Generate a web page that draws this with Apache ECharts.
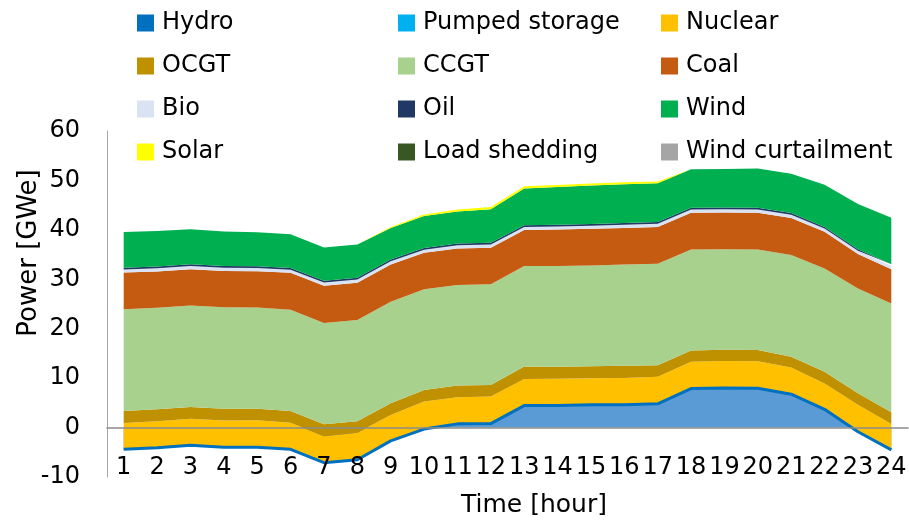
<!DOCTYPE html>
<html>
<head>
<meta charset="utf-8">
<script src="https://cdn.jsdelivr.net/npm/echarts@6/dist/echarts.min.js"></script>
<style>
  html, body { margin: 0; padding: 0; background: #fff; }
  #chart { width: 909px; height: 521px; }
</style>
</head>
<body>
<div id="chart"></div>
<script>
// hourly dispatch, GWe
const hours = ["1", "2", "3", "4", "5", "6", "7", "8", "9", "10", "11", "12",
  "13", "14", "15", "16", "17", "18", "19", "20", "21", "22", "23", "24"];

const hydro = [-4.4, -4.1, -3.6, -4.0, -4.0, -4.4, -7.1, -6.5, -2.7, -0.3, 0.75, 0.8,
  4.45, 4.45, 4.6, 4.6, 4.8, 7.9, 8.0, 7.95, 6.75, 3.7, -0.85, -4.5];
const pumpedStorage = [0, 0, 0, 0, 0, 0, 0, 0, 0, 0, 0, 0, 0, 0, 0, 0, 0, 0, 0, 0, 0, 0, 0, 0];
const nuclear = [5.35, 5.4, 5.4, 5.45, 5.5, 5.4, 5.35, 5.45, 5.25, 5.55, 5.4, 5.5,
  5.4, 5.45, 5.4, 5.45, 5.5, 5.4, 5.45, 5.45, 5.4, 5.2, 5.45, 5.2];
const ocgt = [2.4, 2.4, 2.35, 2.35, 2.3, 2.35, 2.4, 2.35, 2.35, 2.35, 2.35, 2.3,
  2.5, 2.4, 2.4, 2.45, 2.3, 2.3, 2.3, 2.3, 2.2, 2.4, 2.35, 2.4];
const ccgt = [20.6, 20.55, 20.55, 20.55, 20.5, 20.5, 20.5, 20.45, 20.55, 20.4, 20.35, 20.4,
  20.35, 20.4, 20.4, 20.5, 20.55, 20.45, 20.35, 20.35, 20.55, 20.9, 21.2, 22.0];
const coal = [7.4, 7.35, 7.35, 7.35, 7.35, 7.45, 7.55, 7.55, 7.55, 7.35, 7.4, 7.4,
  7.25, 7.35, 7.4, 7.4, 7.45, 7.4, 7.4, 7.4, 7.5, 7.4, 6.95, 6.95];
const bio = [0.65, 0.65, 0.65, 0.65, 0.65, 0.65, 0.65, 0.65, 0.65, 0.65, 0.65, 0.65,
  0.65, 0.65, 0.65, 0.65, 0.65, 0.65, 0.65, 0.65, 0.65, 0.65, 0.65, 0.65];
const oil = [0.35, 0.35, 0.35, 0.35, 0.35, 0.35, 0.35, 0.35, 0.35, 0.35, 0.35, 0.35,
  0.35, 0.35, 0.35, 0.35, 0.35, 0.35, 0.35, 0.35, 0.35, 0.35, 0.35, 0.35];
const wind = [7.2, 7.15, 7.05, 6.95, 6.85, 6.8, 6.75, 6.75, 6.4, 6.45, 6.45, 6.75,
  7.4, 7.6, 7.75, 7.85, 7.85, 7.8, 7.8, 7.95, 7.95, 8.55, 9.15, 9.4];
const solar = [0, 0, 0, 0, 0, 0, 0, 0, 0.2, 0.3, 0.4, 0.45,
  0.45, 0.45, 0.45, 0.4, 0.35, 0, 0, 0, 0, 0, 0, 0];
const loadShedding = [0, 0, 0, 0, 0, 0, 0, 0, 0, 0, 0, 0, 0, 0, 0, 0, 0, 0, 0, 0, 0, 0, 0, 0];
const windCurtailment = [0, 0, 0, 0, 0, 0, 0, 0, 0, 0, 0, 0, 0, 0, 0, 0, 0, 0, 0, 0, 0, 0, 0, 0];

const FONT = "DejaVu Sans";

function area(name, values, color, extra) {
  return Object.assign({
    name: name,
    type: "line",
    stack: "total",
    stackStrategy: "all",
    data: values,
    symbol: "none",
    showSymbol: false,
    lineStyle: { width: 0, opacity: 0 },
    itemStyle: { color: color },
    areaStyle: { color: color, opacity: 1 },
    emphasis: { disabled: true },
  }, extra || {});
}

const series = [
  area("Hydro", hydro, "#0070C0", {
    lineStyle: { width: 3, color: "#0070C0" },
    areaStyle: { color: "#5B9BD5", opacity: 1 },
  }),
  area("Pumped storage", pumpedStorage, "#00B0F0"),
  area("Nuclear", nuclear, "#FFC000"),
  area("OCGT", ocgt, "#BF9000"),
  area("CCGT", ccgt, "#A9D18E"),
  area("Coal", coal, "#C55A11"),
  area("Bio", bio, "#DAE3F3"),
  area("Oil", oil, "#203864"),
  area("Wind", wind, "#00B050"),
  area("Solar", solar, "#FFFF00"),
  area("Load shedding", loadShedding, "#385723"),
  area("Wind curtailment", windCurtailment, "#A5A5A5"),
];

const legendBase = {
  orient: "vertical",
  top: 11,
  padding: 0,
  icon: "rect",
  itemWidth: 17,
  itemHeight: 17,
  itemGap: 19,
  selectedMode: false,
  itemStyle: { borderWidth: 0 },
  textStyle: { fontFamily: FONT, fontSize: 24, lineHeight: 24, color: "#000", padding: [0, 0, 0, 3] },
};

const myChart = echarts.init(document.getElementById("chart"), null, { renderer: "canvas" });

const option = {
  animation: false,
  backgroundColor: "#fff",
  legend: [
    Object.assign({}, legendBase, { left: 137, data: ["Hydro", "OCGT", "Bio", "Solar"] }),
    Object.assign({}, legendBase, { left: 398, data: ["Pumped storage", "CCGT", "Oil", "Load shedding"] }),
    Object.assign({}, legendBase, { left: 661, data: ["Nuclear", "Coal", "Wind", "Wind curtailment"] }),
  ],
  grid: { left: 107, right: 1, top: 131, bottom: 44, containLabel: false, outerBoundsMode: "none" },
  xAxis: {
    type: "category",
    data: hours,
    boundaryGap: true,
    z: 10,
    name: "Time [hour]",
    nameLocation: "middle",
    nameGap: 16,
    nameMoveOverlap: false,
    nameTextStyle: { fontFamily: FONT, fontSize: 25, color: "#000", padding: [0, 0, 0, 53] },
    axisLine: { onZero: true, lineStyle: { color: "#8C8C8C", width: 1.5 } },
    axisTick: { show: false },
    splitLine: { show: false },
    axisLabel: { interval: 0, margin: -21, fontFamily: FONT, fontSize: 24, color: "#000" },
  },
  yAxis: {
    type: "value",
    min: -10,
    max: 60,
    interval: 10,
    name: "Power [GWe]",
    nameLocation: "middle",
    nameGap: 65,
    nameMoveOverlap: false,
    nameTextStyle: { fontFamily: FONT, fontSize: 26, color: "#000", padding: [0, 0, 0, 102] },
    axisLine: { show: true, lineStyle: { color: "#A6A6A6", width: 1 } },
    axisTick: { show: false },
    splitLine: { show: false },
    axisLabel: { margin: 27, fontFamily: FONT, fontSize: 24, color: "#000" },
  },
  series: series,
};

myChart.setOption(option);
</script>
</body>
</html>
